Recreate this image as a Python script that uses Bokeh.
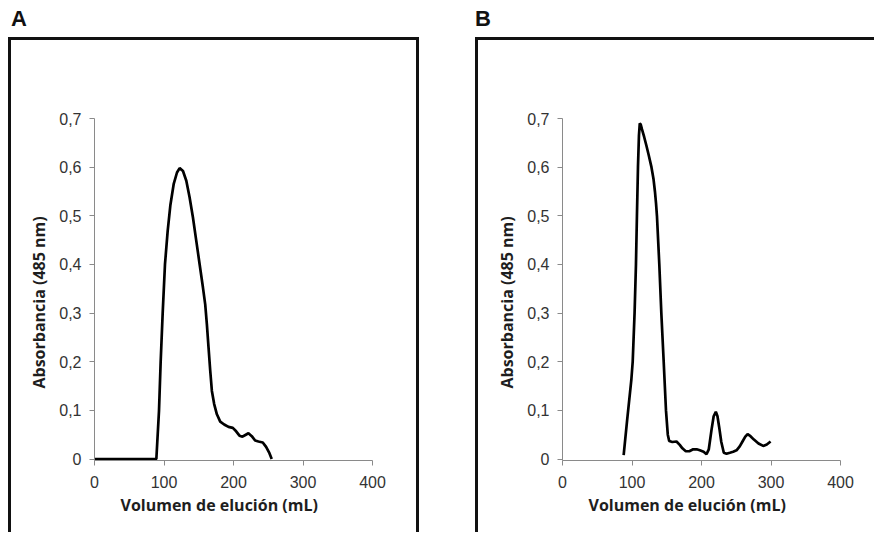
from bokeh.plotting import figure
from bokeh.layouts import row, column
from bokeh.models import Div, Spacer, Range1d, FixedTicker, CustomJSTickFormatter, Title
from bokeh.embed import file_html
from bokeh.resources import INLINE

# Panel A: elution profile
a_vol = [0, 89, 92.8, 95.2, 98.1, 101.4, 105.3, 109.1, 113.9, 118.7, 122.5, 127.3, 132.1,
         136.8, 141.6, 146.4, 151.2, 156, 159.3, 161.7, 164.1, 166.5, 168.9, 172.2, 176.1,
         180.9, 186.6, 192.8, 199, 203.8, 208.6, 212.9, 217.7, 221.5, 226.3, 231.1, 235.9,
         242.1, 246.9, 251.7, 255]
a_abs = [0, 0, 0.099, 0.2, 0.3, 0.4, 0.469, 0.521, 0.565, 0.589, 0.598, 0.592, 0.572,
         0.538, 0.497, 0.449, 0.401, 0.353, 0.318, 0.277, 0.229, 0.182, 0.14, 0.113, 0.092,
         0.077, 0.071, 0.066, 0.064, 0.057, 0.048, 0.046, 0.05, 0.053, 0.047, 0.038, 0.036,
         0.034, 0.025, 0.012, 0]

# Panel B: elution profile
b_vol = [88, 93, 99, 101, 103.7, 105.7, 107.1, 108.6, 110, 111.2, 112.5, 114.3, 117.5, 120.6,
         124, 128, 131, 133, 134.6, 135.9, 139.3, 142.2, 145.6, 148.9, 151.5, 153.5, 158, 164,
         168.7, 172.5, 177.4, 182.5, 188, 193, 197.6, 203, 207.2, 210.5, 214.4, 217.5, 220.6,
         223, 225.4, 228.5, 232.1, 236, 240.8, 245.5, 250.4, 255, 259, 263, 266.3, 270.5,
         275.4, 282, 288.8, 294, 299.4]
b_abs = [0.008, 0.08, 0.162, 0.2, 0.3, 0.4, 0.5, 0.6, 0.665, 0.69, 0.688, 0.678, 0.662, 0.645,
         0.625, 0.6, 0.575, 0.55, 0.525, 0.5, 0.4, 0.3, 0.2, 0.1, 0.05, 0.037, 0.035, 0.036,
         0.029, 0.022, 0.016, 0.016, 0.02, 0.02, 0.018, 0.015, 0.01, 0.02, 0.06, 0.088, 0.097,
         0.088, 0.066, 0.035, 0.013, 0.011, 0.013, 0.015, 0.018, 0.026, 0.036, 0.046, 0.051,
         0.047, 0.04, 0.032, 0.027, 0.03, 0.036]

x_ticks = [0, 100, 200, 300, 400]
y_ticks = [0, 0.1, 0.2, 0.3, 0.4, 0.5, 0.6, 0.7]
x_title = "Volumen de elución (mL)"
y_title = "Absorbancia (485 nm)"
panel_labels = ["A", "B"]

AXIS_GREY = "#8a8a8a"
LABEL_COL = "#333333"
TITLE_COL = "#1e1e1e"
BOX_COL = "#111111"
CANVAS_H = 492


def make_panel(xs, ys, width, left, right):
    p = figure(width=width, height=CANVAS_H, output_backend="svg", toolbar_location=None,
               x_range=Range1d(0, 400), y_range=Range1d(-0.003, 0.7),
               min_border_left=left, min_border_right=right,
               min_border_top=78, min_border_bottom=CANVAS_H - 78 - 342, margin=0)
    p.background_fill_color = "white"
    p.border_fill_color = "white"
    p.outline_line_color = None
    p.grid.visible = False

    p.line(xs, ys, line_color="black", line_width=2.7)

    xa = p.xaxis[0]
    xa.ticker = FixedTicker(ticks=x_ticks)
    ya = p.yaxis[0]
    ya.ticker = FixedTicker(ticks=y_ticks)
    ya.formatter = CustomJSTickFormatter(
        code="return tick === 0 ? '0' : tick.toFixed(1).replace('.', ',');")

    for ax in (xa, ya):
        ax.axis_line_color = AXIS_GREY
        ax.axis_line_width = 1
        ax.major_tick_line_color = AXIS_GREY
        ax.major_tick_in = 0
        ax.major_tick_out = 5
        ax.minor_tick_line_color = None
        ax.major_label_text_font = "Liberation Sans"
        ax.major_label_text_font_size = "16px"
        ax.major_label_text_color = LABEL_COL
    xa.major_label_standoff = 10
    ya.major_label_standoff = 8

    # axis titles, positioned like the original (offset from the plot-area centre)
    p.add_layout(Title(text=x_title, align="left", offset=26, vertical_align="top",
                       standoff=6, text_font="Open Sans", text_font_style="bold",
                       text_font_size="16px", text_color=TITLE_COL), "below")
    p.add_layout(Title(text=y_title, align="left", offset=72, vertical_align="bottom",
                       standoff=14, text_font="Open Sans", text_font_style="bold",
                       text_font_size="16px", text_color=TITLE_COL), "left")
    return p


def letter(txt, width, pad):
    return Div(text=txt, width=width, height=29, margin=0,
               styles={"font-family": "Liberation Sans, Arial, sans-serif",
                       "font-weight": "bold", "font-size": "22px",
                       "line-height": "22px", "padding-left": pad,
                       "color": "#111111"})


def bar(w, h):
    return Div(text="", width=w, height=h, margin=0,
               styles={"background-color": BOX_COL})


pa = make_panel(a_vol, a_abs, 405, 83, 44)
pb = make_panel(b_vol, b_abs, 396, 84, 34)

box_a = row(bar(3, CANVAS_H + 3), column(bar(405, 3), pa, spacing=0),
            bar(3, CANVAS_H + 3), spacing=0)
box_b = row(bar(3, CANVAS_H + 3), column(bar(396, 3), pb, spacing=0), spacing=0)

col_a = column(letter(panel_labels[0], 411, "3px"), box_a, spacing=0)
col_b = column(letter(panel_labels[1], 399, "0px"), box_b, spacing=0)
content = row(Spacer(width=8, height=10, margin=0), col_a,
              Spacer(width=56, height=10, margin=0), col_b, spacing=0)
layout = column(Spacer(width=10, height=8, margin=0), content, spacing=0)

open("out.html", "w").write(file_html(layout, INLINE))
